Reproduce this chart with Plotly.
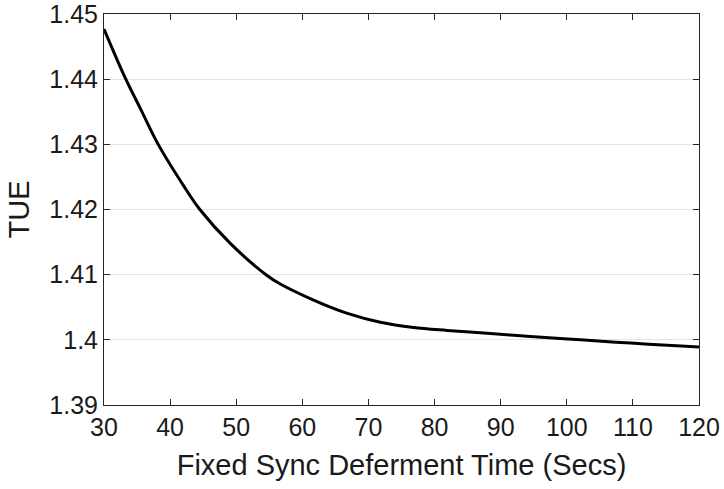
import plotly.graph_objects as go

defer_time = [30, 33.3, 35.6, 38.2, 42.2, 44.5, 49.1, 54.5, 56.6, 61.7, 66.7, 71.8,
              76.8, 81.9, 86.4, 94.5, 102.1, 109.7, 117.3, 120]
tue = [1.4477, 1.4400, 1.4353, 1.4300, 1.4234, 1.4200, 1.4148, 1.4100, 1.4086,
       1.4061, 1.4041, 1.4027, 1.4019, 1.40145, 1.40112, 1.4005, 1.4000, 1.3995, 1.39905, 1.3989]

x_ticks = [30, 40, 50, 60, 70, 80, 90, 100, 110, 120]
y_ticks = [1.39, 1.40, 1.41, 1.42, 1.43, 1.44, 1.45]
y_tick_text = ["1.39", "1.4", "1.41", "1.42", "1.43", "1.44", "1.45"]

FONT = "Liberation Sans, Arial, sans-serif"

fig = go.Figure()
fig.add_trace(go.Scatter(x=defer_time, y=tue, mode="lines",
                         line=dict(color="black", width=3, shape="spline", smoothing=1.0),
                         showlegend=False, hoverinfo="skip"))

axis_common = dict(showline=True, linecolor="#262626", linewidth=1, mirror="ticks",
                   ticks="inside", ticklen=6, tickcolor="#262626", zeroline=False,
                   automargin=False, ticklabeloverflow="allow",
                   tickfont=dict(family=FONT, size=25, color="#1a1a1a"))

fig.update_xaxes(range=[30, 120.0001], tickvals=x_ticks, showgrid=False,
                 title=dict(text="Fixed Sync Deferment Time (Secs)", standoff=14,
                            font=dict(family=FONT, size=29, color="#1a1a1a")),
                 **axis_common)
fig.update_yaxes(range=[1.39, 1.45001], tickvals=y_ticks, ticktext=y_tick_text,
                 showgrid=True, gridcolor="#e3e3e3", gridwidth=1,
                 title=dict(text="TUE", standoff=11,
                            font=dict(family=FONT, size=29, color="#1a1a1a")),
                 **axis_common)

fig.update_layout(width=724, height=489, margin=dict(l=104, r=25, t=14, b=84),
                  plot_bgcolor="white", paper_bgcolor="white")

fig.write_html("out.html", config={"displayModeBar": False},
               post_script="document.body.style.margin='0';")
